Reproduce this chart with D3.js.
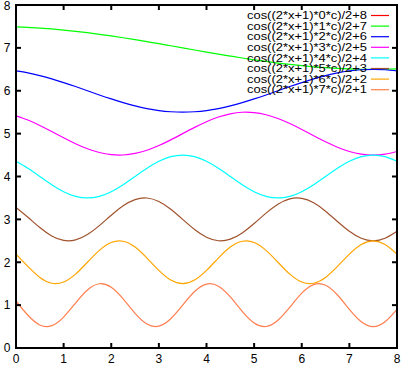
<!DOCTYPE html>
<html>
<head>
<meta charset="utf-8">
<script src="https://d3js.org/d3.v7.min.js"></script>
<style>
  body { margin: 0; background: #fff; }
  text { font-family: "Liberation Sans", Arial, sans-serif; fill: #000; }
</style>
</head>
<body>
<div id="chart"></div>
<script>
// sample positions, every 0.25 from 0 to 8
var xs = d3.range(0, 33).map(function (j) { return j * 0.25; });

var labels = [
  "cos((2*x+1)*0*c)/2+8",
  "cos((2*x+1)*1*c)/2+7",
  "cos((2*x+1)*2*c)/2+6",
  "cos((2*x+1)*3*c)/2+5",
  "cos((2*x+1)*4*c)/2+4",
  "cos((2*x+1)*5*c)/2+3",
  "cos((2*x+1)*6*c)/2+2",
  "cos((2*x+1)*7*c)/2+1"
];
var colors = ["#ff0000", "#00ff00", "#0000ff", "#ff00ff", "#00ffff", "#a0522d", "#ffa500", "#ff7f50"];

var s0 = [8.5,8.5,8.5,8.5,8.5,8.5,8.5,8.5,8.5,8.5,8.5,8.5,8.5,8.5,8.5,8.5,8.5,
  8.5,8.5,8.5,8.5,8.5,8.5,8.5,8.5,8.5,8.5,8.5,8.5,8.5,8.5,8.5,8.5];
var s1 = [7.490,7.478,7.462,7.441,7.416,7.387,7.354,7.317,7.278,7.236,7.191,7.145,7.098,7.049,7.000,6.951,
  6.902,6.855,6.809,6.764,6.722,6.683,6.646,6.613,6.584,6.559,6.538,6.522,6.510,6.502,6.500,6.502,6.510];
var s2 = [6.462,6.416,6.354,6.278,6.191,6.098,6.000,5.902,5.809,5.722,5.646,5.584,5.538,5.510,5.500,5.510,
  5.538,5.584,5.646,5.722,5.809,5.902,6.000,6.098,6.191,6.278,6.354,6.416,6.462,6.490,6.500,6.490,6.462];
var s3 = [5.416,5.317,5.191,5.049,4.902,4.764,4.646,4.559,4.510,4.502,4.538,4.613,4.722,4.855,5.000,5.145,
  5.278,5.387,5.462,5.498,5.490,5.441,5.354,5.236,5.098,4.951,4.809,4.683,4.584,4.522,4.500,4.522,4.584];
var s4 = [4.354,4.191,4.000,3.809,3.646,3.538,3.500,3.538,3.646,3.809,4.000,4.191,4.354,4.462,4.500,4.462,
  4.354,4.191,4.000,3.809,3.646,3.538,3.500,3.538,3.646,3.809,4.000,4.191,4.354,4.462,4.500,4.462,4.354];
var s5 = [3.278,3.049,2.809,2.613,2.510,2.522,2.646,2.855,3.098,3.317,3.462,3.498,3.416,3.236,3.000,2.764,
  2.584,2.502,2.538,2.683,2.902,3.145,3.354,3.478,3.490,3.387,3.191,2.951,2.722,2.559,2.500,2.559,2.722];
var s6 = [2.191,1.902,1.646,1.510,1.538,1.722,2.000,2.278,2.462,2.490,2.354,2.098,1.809,1.584,1.500,1.584,
  1.809,2.098,2.354,2.490,2.462,2.278,2.000,1.722,1.538,1.510,1.646,1.902,2.191,2.416,2.500,2.416,2.191];
var s7 = [1.098,0.764,0.538,0.522,0.722,1.049,1.354,1.498,1.416,1.145,0.809,0.559,0.510,0.683,1.000,1.317,
  1.490,1.441,1.191,0.855,0.584,0.502,0.646,0.951,1.278,1.478,1.462,1.236,0.902,0.613,0.500,0.613,0.902];

var series = [s0, s1, s2, s3, s4, s5, s6, s7];
var xTicks = [0, 1, 2, 3, 4, 5, 6, 7, 8];
var yTicks = [0, 1, 2, 3, 4, 5, 6, 7, 8];

var W = 410, H = 368;
var plotL = 16, plotR = 397, plotT = 5, plotB = 348;

var svg = d3.select("#chart").append("svg")
  .attr("width", W)
  .attr("height", H);

var x = d3.scaleLinear().domain([0, 8]).range([plotL, plotR]);
var y = d3.scaleLinear().domain([0, 8]).range([plotB, plotT]);

svg.append("clipPath").attr("id", "clip")
  .append("rect")
  .attr("x", plotL).attr("y", plotT)
  .attr("width", plotR - plotL).attr("height", plotB - plotT);

var line = d3.line()
  .x(function (d, i) { return x(xs[i]); })
  .y(function (d) { return y(d); })
  .curve(d3.curveNatural);

var plot = svg.append("g").attr("clip-path", "url(#clip)");
plot.selectAll("path")
  .data(series)
  .enter()
  .append("path")
  .attr("d", line)
  .attr("fill", "none")
  .attr("stroke", function (d, i) { return colors[i]; })
  .attr("stroke-width", 1.2);

// legend
var legend = svg.append("g");
labels.forEach(function (lab, i) {
  var ly = 15.5 + i * 10.6;
  legend.append("text")
    .attr("x", 367)
    .attr("y", ly)
    .attr("dy", "0.36em")
    .attr("text-anchor", "end")
    .attr("font-size", 10.5)
    .attr("textLength", 120)
    .attr("lengthAdjust", "spacingAndGlyphs")
    .text(lab);
  legend.append("line")
    .attr("x1", 371).attr("x2", 389)
    .attr("y1", ly).attr("y2", ly)
    .attr("stroke", colors[i])
    .attr("stroke-width", 1.2);
});

// ticks, all four sides, pointing inwards
var tickLen = 5;
var axes = svg.append("g").attr("stroke", "#000").attr("stroke-width", 2);
xTicks.forEach(function (t) {
  axes.append("line").attr("x1", x(t)).attr("x2", x(t)).attr("y1", plotB).attr("y2", plotB - tickLen);
  axes.append("line").attr("x1", x(t)).attr("x2", x(t)).attr("y1", plotT).attr("y2", plotT + tickLen);
});
yTicks.forEach(function (t) {
  axes.append("line").attr("x1", plotL).attr("x2", plotL + tickLen).attr("y1", y(t)).attr("y2", y(t));
  axes.append("line").attr("x1", plotR).attr("x2", plotR - tickLen).attr("y1", y(t)).attr("y2", y(t));
});

axes.append("rect")
  .attr("x", plotL).attr("y", plotT)
  .attr("width", plotR - plotL).attr("height", plotB - plotT)
  .attr("fill", "none");

svg.selectAll(".xl")
  .data(xTicks)
  .enter()
  .append("text")
  .attr("class", "xl")
  .attr("x", function (d) { return x(d); })
  .attr("y", 359)
  .attr("dy", "0.36em")
  .attr("text-anchor", "middle")
  .attr("font-size", 12)
  .text(function (d) { return d; });

svg.selectAll(".yl")
  .data(yTicks)
  .enter()
  .append("text")
  .attr("class", "yl")
  .attr("x", 7)
  .attr("y", function (d) { return Math.max(y(d), 6); })
  .attr("dy", "0.36em")
  .attr("text-anchor", "middle")
  .attr("font-size", 12)
  .text(function (d) { return d; });
</script>
</body>
</html>
